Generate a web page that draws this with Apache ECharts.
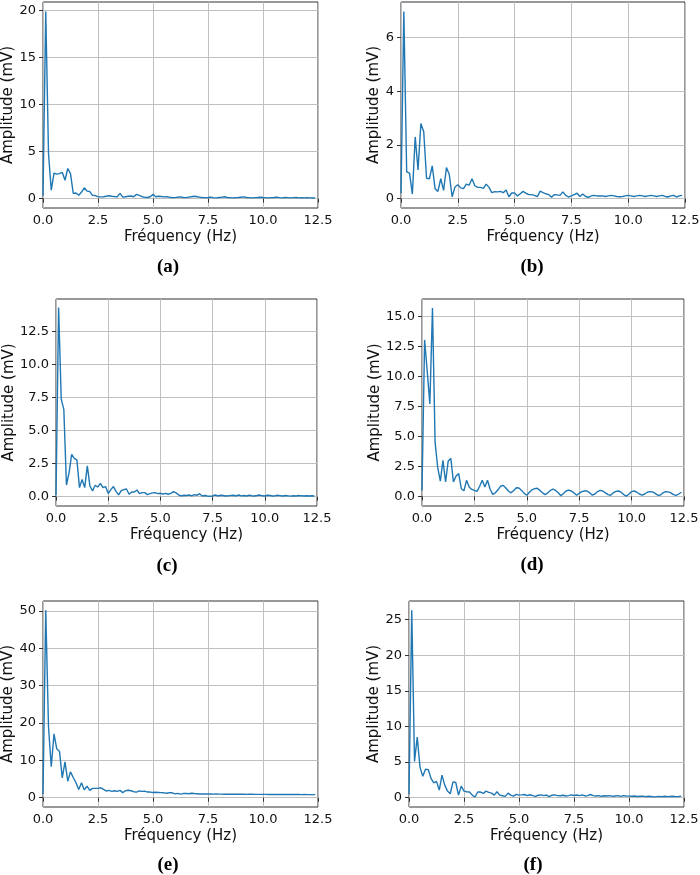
<!DOCTYPE html>
<html>
<head>
<meta charset="utf-8">
<script src="https://cdn.jsdelivr.net/npm/echarts@6/dist/echarts.min.js"></script>
<style>
  html, body { margin: 0; padding: 0; background: #fff; }
  #chart { width: 700px; height: 875px; }
</style>
</head>
<body>
<div id="chart"></div>
<script>
// FFT bins: 25 Hz sampling, 200 samples -> 0.125 Hz step, first half only
const binStep = 0.125
const freqs = Array.from({ length: 100 }, (_, i) => i * binStep)

const xTicks = [0, 2.5, 5, 7.5, 10, 12.5]
const yTicksA = [0, 5, 10, 15, 20]
const yTicksB = [0, 2, 4, 6]
const yTicksC = [0, 2.5, 5, 7.5, 10, 12.5]
const yTicksD = [0, 2.5, 5, 7.5, 10, 12.5, 15]
const yTicksE = [0, 10, 20, 30, 40, 50]
const yTicksF = [0, 5, 10, 15, 20, 25]

const captions = ['(a)', '(b)', '(c)', '(d)', '(e)', '(f)']

const ampA = [
  0.3, 19.9, 4.8, 0.9, 2.7, 2.6, 2.65, 2.8, 1.95, 3.2,
  2.65, 0.55, 0.6, 0.35, 0.7, 1.15, 0.8, 0.75, 0.35, 0.32,
  0.2, 0.18, 0.2, 0.25, 0.3, 0.25, 0.22, 0.2, 0.55, 0.15,
  0.2, 0.25, 0.28, 0.2, 0.45, 0.35, 0.2, 0.15, 0.12, 0.2,
  0.45, 0.2, 0.25, 0.22, 0.18, 0.2, 0.15, 0.12, 0.1, 0.15,
  0.18, 0.12, 0.1, 0.15, 0.2, 0.25, 0.2, 0.15, 0.12, 0.1,
  0.12, 0.15, 0.1, 0.08, 0.12, 0.15, 0.2, 0.12, 0.1, 0.08,
  0.1, 0.12, 0.15, 0.18, 0.12, 0.1, 0.08, 0.1, 0.12, 0.15,
  0.12, 0.1, 0.08, 0.1, 0.12, 0.15, 0.1, 0.08, 0.12, 0.1,
  0.08, 0.1, 0.12, 0.08, 0.1, 0.08, 0.1, 0.08, 0.06, 0.08
]
const ampB = [
  0.2, 6.98, 1.0, 0.95, 0.17, 2.3, 1.07, 2.8, 2.49, 0.76,
  0.74, 1.22, 0.37, 0.27, 0.74, 0.31, 1.16, 0.9, 0.07, 0.43,
  0.52, 0.4, 0.37, 0.54, 0.5, 0.74, 0.48, 0.42, 0.42, 0.38,
  0.54, 0.42, 0.22, 0.26, 0.25, 0.27, 0.22, 0.32, 0.07, 0.21,
  0.21, 0.1, 0.18, 0.27, 0.2, 0.15, 0.15, 0.12, 0.07, 0.28,
  0.22, 0.18, 0.15, 0.05, 0.15, 0.14, 0.12, 0.25, 0.12, 0.06,
  0.1, 0.15, 0.2, 0.08, 0.17, 0.08, 0.05, 0.1, 0.12, 0.1,
  0.1, 0.1, 0.08, 0.1, 0.12, 0.1, 0.08, 0.07, 0.08, 0.1,
  0.12, 0.1, 0.08, 0.1, 0.12, 0.1, 0.08, 0.1, 0.12, 0.1,
  0.08, 0.1, 0.12, 0.08, 0.06, 0.1, 0.12, 0.06, 0.1, 0.12
]
const ampC = [
  0.1, 14.3, 7.37, 6.6, 0.88, 1.8, 3.2, 2.9, 2.78, 0.68,
  1.3, 0.68, 2.32, 0.8, 0.43, 0.86, 0.73, 1.0, 0.68, 0.76,
  0.23, 0.53, 0.76, 0.4, 0.13, 0.45, 0.53, 0.58, 0.18, 0.35,
  0.35, 0.5, 0.23, 0.3, 0.3, 0.15, 0.23, 0.28, 0.3, 0.23,
  0.25, 0.2, 0.25, 0.18, 0.25, 0.38, 0.28, 0.12, 0.05, 0.1,
  0.08, 0.12, 0.05, 0.15, 0.1, 0.22, 0.05, 0.08, 0.05, 0.03,
  0.05, 0.12, 0.05, 0.1, 0.08, 0.05, 0.06, 0.08, 0.1, 0.05,
  0.12, 0.06, 0.08, 0.05, 0.1, 0.07, 0.05, 0.08, 0.12, 0.06,
  0.05, 0.1, 0.08, 0.05, 0.07, 0.1, 0.06, 0.05, 0.08, 0.06,
  0.04, 0.07, 0.05, 0.08, 0.06, 0.05, 0.07, 0.05, 0.06, 0.05
]
const ampD = [
  0.5, 13.05, 10.4, 7.7, 15.7, 4.5, 2.4, 1.28, 3.0, 1.2,
  2.95, 3.17, 1.2, 1.7, 1.9, 0.64, 0.47, 1.34, 0.78, 0.58,
  0.5, 0.42, 0.85, 1.34, 0.78, 1.35, 0.6, 0.17, 0.3, 0.55,
  0.85, 0.92, 0.7, 0.45, 0.3, 0.5, 0.72, 0.7, 0.5, 0.25,
  0.1, 0.35, 0.55, 0.65, 0.68, 0.5, 0.3, 0.15, 0.3, 0.5,
  0.6, 0.5, 0.3, 0.05, 0.25, 0.45, 0.52, 0.45, 0.3, 0.1,
  0.25, 0.4, 0.45, 0.45, 0.3, 0.1, 0.2, 0.4, 0.5, 0.45,
  0.3, 0.15, 0.1, 0.3, 0.42, 0.45, 0.35, 0.15, 0.02, 0.2,
  0.4, 0.45, 0.35, 0.2, 0.1, 0.2, 0.35, 0.4, 0.38, 0.25,
  0.1, 0.12, 0.3, 0.4, 0.38, 0.3, 0.15, 0.08, 0.2, 0.35
]
const ampE = [
  1.0, 50.2, 19.0, 8.3, 17.1, 13.1, 12.4, 5.3, 9.6, 4.4,
  6.9, 5.4, 4.0, 2.2, 4.0, 2.1, 3.1, 1.95, 2.5, 2.5,
  2.5, 2.65, 2.2, 1.8, 1.95, 1.7, 1.85, 1.7, 1.95, 1.35,
  1.85, 2.0, 1.85, 1.6, 1.5, 1.8, 1.7, 1.75, 1.5, 1.5,
  1.4, 1.45, 1.4, 1.35, 1.3, 1.2, 1.35, 1.3, 1.0, 1.15,
  0.95, 1.1, 1.15, 1.05, 1.2, 1.1, 1.05, 1.0, 1.0, 0.98,
  0.97, 0.97, 0.95, 0.97, 0.94, 0.95, 0.93, 0.94, 0.92, 0.93,
  0.92, 0.9, 0.91, 0.91, 0.89, 0.9, 0.9, 0.88, 0.89, 0.88,
  0.87, 0.88, 0.86, 0.87, 0.86, 0.85, 0.86, 0.85, 0.84, 0.85,
  0.84, 0.83, 0.84, 0.83, 0.82, 0.83, 0.82, 0.81, 0.82, 0.81
]
const ampF = [
  0.5, 26.3, 5.1, 8.5, 4.3, 3.0, 4.0, 3.95, 2.7, 2.1,
  2.3, 1.07, 3.17, 1.77, 0.93, 0.56, 2.23, 2.14, 0.37, 1.63,
  0.93, 0.84, 0.8, 0.37, 0.1, 0.8, 0.8, 0.6, 0.93, 0.75,
  0.65, 0.37, 0.84, 0.37, 0.28, 0.19, 0.65, 0.37, 0.23, 0.47,
  0.37, 0.4, 0.45, 0.3, 0.42, 0.3, 0.2, 0.35, 0.4, 0.3,
  0.38, 0.15, 0.35, 0.4, 0.3, 0.28, 0.35, 0.25, 0.3, 0.4,
  0.32, 0.38, 0.3, 0.4, 0.25, 0.3, 0.45, 0.3, 0.25, 0.3,
  0.2, 0.28, 0.25, 0.3, 0.2, 0.25, 0.3, 0.18, 0.3, 0.25,
  0.22, 0.2, 0.25, 0.18, 0.2, 0.22, 0.15, 0.2, 0.18, 0.12,
  0.15, 0.18, 0.15, 0.2, 0.15, 0.18, 0.2, 0.15, 0.18, 0.22
]

// layout of each panel (px), y limits like matplotlib's 5% margins
const panels = [
  { amp: ampA, ticks: yTicksA, dec: 0, min: -1.0, max: 20.9, left: 43, top: 2, width: 275, height: 206, yGap: 27, cx: 168, cy: 267 },
  { amp: ampB, ticks: yTicksB, dec: 0, min: -0.35, max: 7.33, left: 401, top: 2, width: 284, height: 206, yGap: 17, cx: 532, cy: 267 },
  { amp: ampC, ticks: yTicksC, dec: 1, min: -0.71, max: 14.95, left: 56, top: 299, width: 261, height: 207, yGap: 36, cx: 167, cy: 566 },
  { amp: ampD, ticks: yTicksD, dec: 1, min: -0.8, max: 16.46, left: 422, top: 299, width: 262, height: 207, yGap: 38, cx: 532, cy: 565 },
  { amp: ampE, ticks: yTicksE, dec: 0, min: -2.5, max: 52.7, left: 43, top: 601, width: 275, height: 206, yGap: 26, cx: 168, cy: 865 },
  { amp: ampF, ticks: yTicksF, dec: 0, min: -1.3, max: 27.6, left: 409, top: 601, width: 275, height: 206, yGap: 25, cx: 533, cy: 865 },
]

const tickFont = { fontFamily: 'DejaVu Sans', fontSize: 13, color: '#111' }
const nameFont = { fontFamily: 'DejaVu Sans', fontSize: 15, color: '#111' }
const gridLine = { show: true, lineStyle: { color: '#bfbfbf', width: 1 } }

const option = {
  animation: false,
  backgroundColor: '#fff',
  grid: [],
  xAxis: [],
  yAxis: [],
  series: [],
  graphic: [],
}

panels.forEach((p, i) => {
  option.grid.push({
    left: p.left, top: p.top, width: p.width, height: p.height,
    show: true, borderColor: '#333', borderWidth: 1,
    outerBoundsMode: 'none',
  })
  option.xAxis.push({
    type: 'value', gridIndex: i, min: 0, max: 12.5,
    name: 'Fréquency (Hz)', nameLocation: 'middle', nameGap: 22, nameTextStyle: nameFont,
    axisLine: { show: false },
    axisTick: { show: true, length: 4, inside: false, customValues: xTicks, lineStyle: { color: '#333' } },
    axisLabel: Object.assign({ margin: 6, customValues: xTicks, formatter: v => v.toFixed(1) }, tickFont),
    splitLine: gridLine,
  })
  option.yAxis.push({
    type: 'value', gridIndex: i, min: p.min, max: p.max,
    name: 'Amplitude (mV)', nameLocation: 'middle', nameGap: p.yGap, nameTextStyle: nameFont,
    axisLine: { show: false },
    axisTick: { show: true, length: 4, inside: false, customValues: p.ticks, lineStyle: { color: '#333' } },
    axisLabel: Object.assign({ margin: 7, customValues: p.ticks, formatter: v => v.toFixed(p.dec) }, tickFont),
    splitLine: gridLine,
  })
  option.series.push({
    type: 'line', xAxisIndex: i, yAxisIndex: i,
    data: freqs.map((f, k) => [f, p.amp[k]]),
    showSymbol: false, clip: true,
    lineStyle: { color: '#1f77b4', width: 1.4 },
  })
  option.graphic.push({
    type: 'text', x: p.cx, y: p.cy,
    style: {
      text: captions[i], fontFamily: 'Liberation Serif', fontWeight: 'bold', fontSize: 19,
      fill: '#000', align: 'center', verticalAlign: 'middle',
    },
  })
})

const chart = echarts.init(document.getElementById('chart'), null, { renderer: 'canvas' })
chart.setOption(option)
</script>
</body>
</html>
